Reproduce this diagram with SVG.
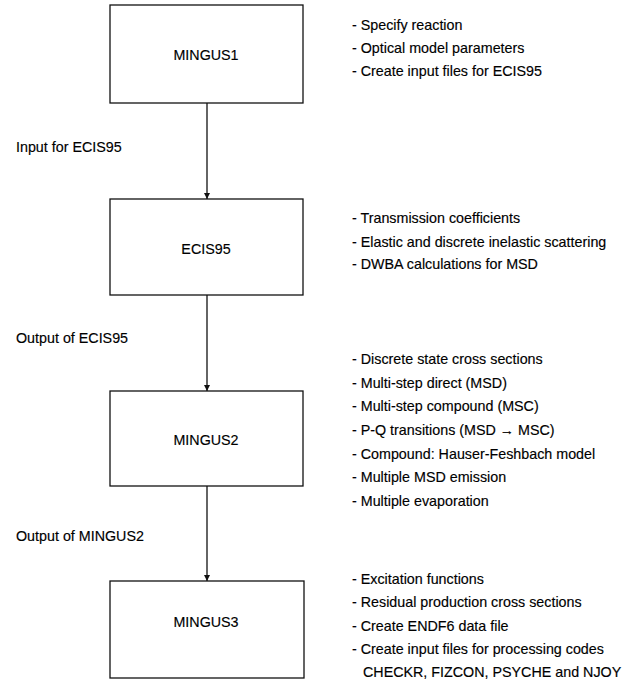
<svg xmlns="http://www.w3.org/2000/svg" width="642" height="683" viewBox="0 0 642 683">
<style>
.box{fill:#fff;stroke:#111;stroke-width:1.3}
.lbl{font-family:"Liberation Sans",Arial,sans-serif;font-size:14.3px;fill:#000;stroke:#000;stroke-width:0.15}
.c{text-anchor:middle}
.con{stroke:#111;stroke-width:1.3;fill:none;marker-end:url(#ah)}
</style>
<defs>
<marker id="ah" viewBox="0 0 8 8" refX="8" refY="4" markerWidth="6" markerHeight="6" markerUnits="userSpaceOnUse" orient="auto">
<path d="M0,0 L8,4 L0,8 z" fill="#111"/>
</marker>
</defs>
<rect width="642" height="683" fill="#fff"/>
<g id="connectors">
<line class="con" x1="207" y1="103" x2="207" y2="199"/>
<line class="con" x1="207" y1="295" x2="207" y2="391"/>
<line class="con" x1="207" y1="486" x2="207" y2="581"/>
</g>
<g id="mingus1">
<rect class="box" x="110" y="5" width="193" height="98"/>
<text class="lbl c" x="206" y="60">MINGUS1</text>
</g>
<g id="ecis95">
<rect class="box" x="110" y="199" width="193" height="96"/>
<text class="lbl c" x="206" y="254">ECIS95</text>
</g>
<g id="mingus2">
<rect class="box" x="110" y="391" width="193" height="95"/>
<text class="lbl c" x="206" y="445">MINGUS2</text>
</g>
<g id="mingus3">
<rect class="box" x="110" y="581" width="194" height="97"/>
<text class="lbl c" x="206" y="627">MINGUS3</text>
</g>
<g id="flow-labels">
<text class="lbl" x="16" y="152">Input for ECIS95</text>
<text class="lbl" x="16" y="343">Output of ECIS95</text>
<text class="lbl" x="16" y="541">Output of MINGUS2</text>
</g>
<g id="notes">
<text class="lbl" x="352" y="30">- Specify reaction</text>
<text class="lbl" x="352" y="53">- Optical model parameters</text>
<text class="lbl" x="352" y="76">- Create input files for ECIS95</text>
<text class="lbl" x="352" y="223">- Transmission coefficients</text>
<text class="lbl" x="352" y="247">- Elastic and discrete inelastic scattering</text>
<text class="lbl" x="352" y="269">- DWBA calculations for MSD</text>
<text class="lbl" x="352" y="364">- Discrete state cross sections</text>
<text class="lbl" x="352" y="388">- Multi-step direct (MSD)</text>
<text class="lbl" x="352" y="411">- Multi-step compound (MSC)</text>
<text class="lbl" x="352" y="435">- P-Q transitions (MSD → MSC)</text>
<text class="lbl" x="352" y="459">- Compound: Hauser-Feshbach model</text>
<text class="lbl" x="352" y="482">- Multiple MSD emission</text>
<text class="lbl" x="352" y="506">- Multiple evaporation</text>
<text class="lbl" x="352" y="584">- Excitation functions</text>
<text class="lbl" x="352" y="607">- Residual production cross sections</text>
<text class="lbl" x="352" y="631">- Create ENDF6 data file</text>
<text class="lbl" x="352" y="654">- Create input files for processing codes</text>
<text class="lbl" x="363" y="677">CHECKR, FIZCON, PSYCHE and NJOY</text>
</g>
</svg>
